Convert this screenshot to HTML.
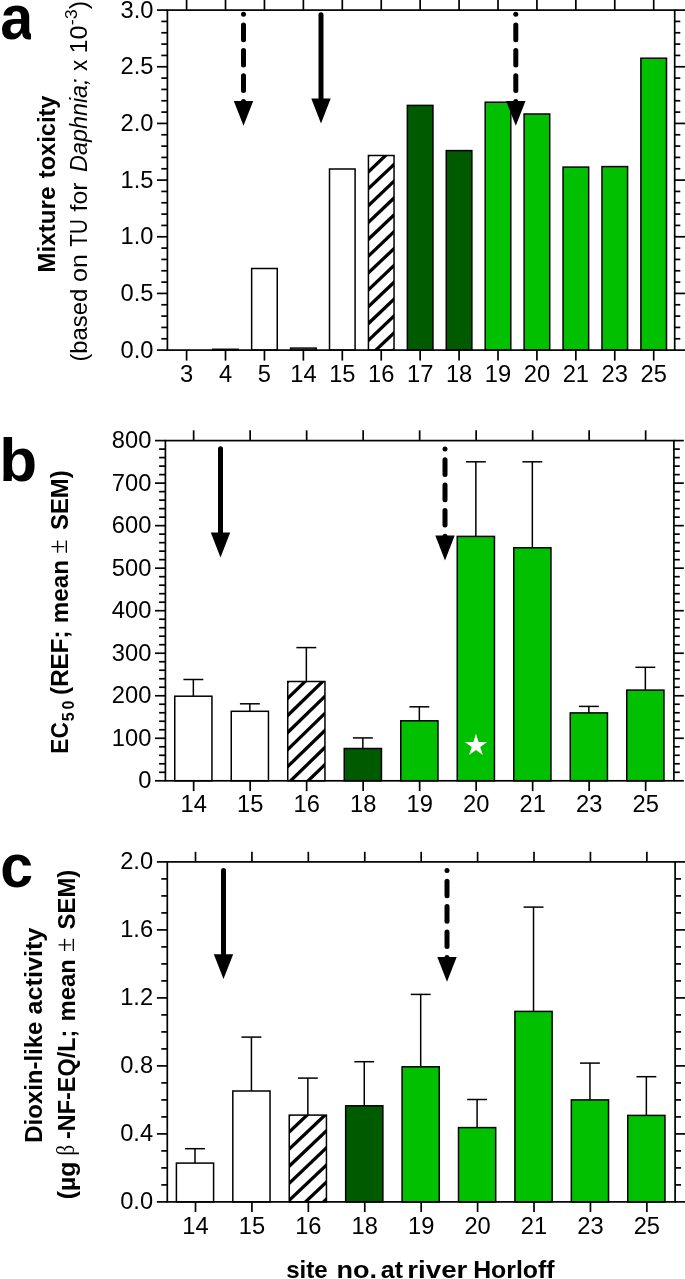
<!DOCTYPE html>
<html><head><meta charset="utf-8"><title>chart</title>
<style>html,body{margin:0;padding:0;background:#fff}svg{display:block;will-change:transform}</style>
</head><body>
<svg width="685" height="1279" viewBox="0 0 685 1279">
<rect width="685" height="1279" fill="#fff"/>
<rect x="212.72" y="349.30" width="25.60" height="0.80" fill="#fff" stroke="#000" stroke-width="1.5"/>
<rect x="251.65" y="268.50" width="25.60" height="81.60" fill="#fff" stroke="#000" stroke-width="1.5"/>
<rect x="290.57" y="348.10" width="25.60" height="2.00" fill="#fff" stroke="#000" stroke-width="1.5"/>
<rect x="329.50" y="169.00" width="25.60" height="181.10" fill="#fff" stroke="#000" stroke-width="1.5"/>
<clipPath id="hc1"><rect x="368.43" y="155.50" width="25.60" height="194.60"/></clipPath>
<rect x="368.43" y="155.50" width="25.60" height="194.60" fill="#fff"/>
<g clip-path="url(#hc1)">
<line x1="363.43" y1="126.00" x2="399.03" y2="92.18" stroke="#000" stroke-width="3.3" stroke-linecap="butt"/>
<line x1="363.43" y1="142.85" x2="399.03" y2="109.03" stroke="#000" stroke-width="3.3" stroke-linecap="butt"/>
<line x1="363.43" y1="159.70" x2="399.03" y2="125.88" stroke="#000" stroke-width="3.3" stroke-linecap="butt"/>
<line x1="363.43" y1="176.55" x2="399.03" y2="142.73" stroke="#000" stroke-width="3.3" stroke-linecap="butt"/>
<line x1="363.43" y1="193.40" x2="399.03" y2="159.58" stroke="#000" stroke-width="3.3" stroke-linecap="butt"/>
<line x1="363.43" y1="210.25" x2="399.03" y2="176.43" stroke="#000" stroke-width="3.3" stroke-linecap="butt"/>
<line x1="363.43" y1="227.10" x2="399.03" y2="193.28" stroke="#000" stroke-width="3.3" stroke-linecap="butt"/>
<line x1="363.43" y1="243.95" x2="399.03" y2="210.13" stroke="#000" stroke-width="3.3" stroke-linecap="butt"/>
<line x1="363.43" y1="260.80" x2="399.03" y2="226.98" stroke="#000" stroke-width="3.3" stroke-linecap="butt"/>
<line x1="363.43" y1="277.65" x2="399.03" y2="243.83" stroke="#000" stroke-width="3.3" stroke-linecap="butt"/>
<line x1="363.43" y1="294.50" x2="399.03" y2="260.68" stroke="#000" stroke-width="3.3" stroke-linecap="butt"/>
<line x1="363.43" y1="311.35" x2="399.03" y2="277.53" stroke="#000" stroke-width="3.3" stroke-linecap="butt"/>
<line x1="363.43" y1="328.20" x2="399.03" y2="294.38" stroke="#000" stroke-width="3.3" stroke-linecap="butt"/>
<line x1="363.43" y1="345.05" x2="399.03" y2="311.23" stroke="#000" stroke-width="3.3" stroke-linecap="butt"/>
<line x1="363.43" y1="361.90" x2="399.03" y2="328.08" stroke="#000" stroke-width="3.3" stroke-linecap="butt"/>
<line x1="363.43" y1="378.75" x2="399.03" y2="344.93" stroke="#000" stroke-width="3.3" stroke-linecap="butt"/>
</g>
<rect x="368.43" y="155.50" width="25.60" height="194.60" fill="none" stroke="#000" stroke-width="1.5"/>
<rect x="407.35" y="105.40" width="25.60" height="244.70" fill="#005A00" stroke="#000" stroke-width="1.5"/>
<rect x="446.27" y="150.60" width="25.60" height="199.50" fill="#005A00" stroke="#000" stroke-width="1.5"/>
<rect x="485.20" y="102.20" width="25.60" height="247.90" fill="#00C000" stroke="#000" stroke-width="1.5"/>
<rect x="524.12" y="114.00" width="25.60" height="236.10" fill="#00C000" stroke="#000" stroke-width="1.5"/>
<rect x="563.05" y="167.10" width="25.60" height="183.00" fill="#00C000" stroke="#000" stroke-width="1.5"/>
<rect x="601.98" y="166.60" width="25.60" height="183.50" fill="#00C000" stroke="#000" stroke-width="1.5"/>
<rect x="640.90" y="58.20" width="25.60" height="291.90" fill="#00C000" stroke="#000" stroke-width="1.5"/>
<rect x="167.40" y="10.10" width="507.30" height="340.00" fill="none" stroke="#000" stroke-width="1.7"/>
<line x1="157.00" y1="350.10" x2="167.40" y2="350.10" stroke="#000" stroke-width="1.7" stroke-linecap="butt"/>
<line x1="674.70" y1="350.10" x2="686.00" y2="350.10" stroke="#000" stroke-width="1.7" stroke-linecap="butt"/>
<text transform="translate(153.50,357.50) scale(1.0,1)" font-family="Liberation Sans, sans-serif" font-size="23.7" text-anchor="end" >0.0</text>
<line x1="161.30" y1="338.77" x2="167.40" y2="338.77" stroke="#000" stroke-width="1.7" stroke-linecap="butt"/>
<line x1="674.70" y1="338.77" x2="680.30" y2="338.77" stroke="#000" stroke-width="1.7" stroke-linecap="butt"/>
<line x1="161.30" y1="327.43" x2="167.40" y2="327.43" stroke="#000" stroke-width="1.7" stroke-linecap="butt"/>
<line x1="674.70" y1="327.43" x2="680.30" y2="327.43" stroke="#000" stroke-width="1.7" stroke-linecap="butt"/>
<line x1="161.30" y1="316.10" x2="167.40" y2="316.10" stroke="#000" stroke-width="1.7" stroke-linecap="butt"/>
<line x1="674.70" y1="316.10" x2="680.30" y2="316.10" stroke="#000" stroke-width="1.7" stroke-linecap="butt"/>
<line x1="161.30" y1="304.77" x2="167.40" y2="304.77" stroke="#000" stroke-width="1.7" stroke-linecap="butt"/>
<line x1="674.70" y1="304.77" x2="680.30" y2="304.77" stroke="#000" stroke-width="1.7" stroke-linecap="butt"/>
<line x1="157.00" y1="293.43" x2="167.40" y2="293.43" stroke="#000" stroke-width="1.7" stroke-linecap="butt"/>
<line x1="674.70" y1="293.43" x2="686.00" y2="293.43" stroke="#000" stroke-width="1.7" stroke-linecap="butt"/>
<text transform="translate(153.50,300.83) scale(1.0,1)" font-family="Liberation Sans, sans-serif" font-size="23.7" text-anchor="end" >0.5</text>
<line x1="161.30" y1="282.10" x2="167.40" y2="282.10" stroke="#000" stroke-width="1.7" stroke-linecap="butt"/>
<line x1="674.70" y1="282.10" x2="680.30" y2="282.10" stroke="#000" stroke-width="1.7" stroke-linecap="butt"/>
<line x1="161.30" y1="270.77" x2="167.40" y2="270.77" stroke="#000" stroke-width="1.7" stroke-linecap="butt"/>
<line x1="674.70" y1="270.77" x2="680.30" y2="270.77" stroke="#000" stroke-width="1.7" stroke-linecap="butt"/>
<line x1="161.30" y1="259.43" x2="167.40" y2="259.43" stroke="#000" stroke-width="1.7" stroke-linecap="butt"/>
<line x1="674.70" y1="259.43" x2="680.30" y2="259.43" stroke="#000" stroke-width="1.7" stroke-linecap="butt"/>
<line x1="161.30" y1="248.10" x2="167.40" y2="248.10" stroke="#000" stroke-width="1.7" stroke-linecap="butt"/>
<line x1="674.70" y1="248.10" x2="680.30" y2="248.10" stroke="#000" stroke-width="1.7" stroke-linecap="butt"/>
<line x1="157.00" y1="236.77" x2="167.40" y2="236.77" stroke="#000" stroke-width="1.7" stroke-linecap="butt"/>
<line x1="674.70" y1="236.77" x2="686.00" y2="236.77" stroke="#000" stroke-width="1.7" stroke-linecap="butt"/>
<text transform="translate(153.50,244.17) scale(1.0,1)" font-family="Liberation Sans, sans-serif" font-size="23.7" text-anchor="end" >1.0</text>
<line x1="161.30" y1="225.43" x2="167.40" y2="225.43" stroke="#000" stroke-width="1.7" stroke-linecap="butt"/>
<line x1="674.70" y1="225.43" x2="680.30" y2="225.43" stroke="#000" stroke-width="1.7" stroke-linecap="butt"/>
<line x1="161.30" y1="214.10" x2="167.40" y2="214.10" stroke="#000" stroke-width="1.7" stroke-linecap="butt"/>
<line x1="674.70" y1="214.10" x2="680.30" y2="214.10" stroke="#000" stroke-width="1.7" stroke-linecap="butt"/>
<line x1="161.30" y1="202.77" x2="167.40" y2="202.77" stroke="#000" stroke-width="1.7" stroke-linecap="butt"/>
<line x1="674.70" y1="202.77" x2="680.30" y2="202.77" stroke="#000" stroke-width="1.7" stroke-linecap="butt"/>
<line x1="161.30" y1="191.43" x2="167.40" y2="191.43" stroke="#000" stroke-width="1.7" stroke-linecap="butt"/>
<line x1="674.70" y1="191.43" x2="680.30" y2="191.43" stroke="#000" stroke-width="1.7" stroke-linecap="butt"/>
<line x1="157.00" y1="180.10" x2="167.40" y2="180.10" stroke="#000" stroke-width="1.7" stroke-linecap="butt"/>
<line x1="674.70" y1="180.10" x2="686.00" y2="180.10" stroke="#000" stroke-width="1.7" stroke-linecap="butt"/>
<text transform="translate(153.50,187.50) scale(1.0,1)" font-family="Liberation Sans, sans-serif" font-size="23.7" text-anchor="end" >1.5</text>
<line x1="161.30" y1="168.77" x2="167.40" y2="168.77" stroke="#000" stroke-width="1.7" stroke-linecap="butt"/>
<line x1="674.70" y1="168.77" x2="680.30" y2="168.77" stroke="#000" stroke-width="1.7" stroke-linecap="butt"/>
<line x1="161.30" y1="157.43" x2="167.40" y2="157.43" stroke="#000" stroke-width="1.7" stroke-linecap="butt"/>
<line x1="674.70" y1="157.43" x2="680.30" y2="157.43" stroke="#000" stroke-width="1.7" stroke-linecap="butt"/>
<line x1="161.30" y1="146.10" x2="167.40" y2="146.10" stroke="#000" stroke-width="1.7" stroke-linecap="butt"/>
<line x1="674.70" y1="146.10" x2="680.30" y2="146.10" stroke="#000" stroke-width="1.7" stroke-linecap="butt"/>
<line x1="161.30" y1="134.77" x2="167.40" y2="134.77" stroke="#000" stroke-width="1.7" stroke-linecap="butt"/>
<line x1="674.70" y1="134.77" x2="680.30" y2="134.77" stroke="#000" stroke-width="1.7" stroke-linecap="butt"/>
<line x1="157.00" y1="123.43" x2="167.40" y2="123.43" stroke="#000" stroke-width="1.7" stroke-linecap="butt"/>
<line x1="674.70" y1="123.43" x2="686.00" y2="123.43" stroke="#000" stroke-width="1.7" stroke-linecap="butt"/>
<text transform="translate(153.50,130.83) scale(1.0,1)" font-family="Liberation Sans, sans-serif" font-size="23.7" text-anchor="end" >2.0</text>
<line x1="161.30" y1="112.10" x2="167.40" y2="112.10" stroke="#000" stroke-width="1.7" stroke-linecap="butt"/>
<line x1="674.70" y1="112.10" x2="680.30" y2="112.10" stroke="#000" stroke-width="1.7" stroke-linecap="butt"/>
<line x1="161.30" y1="100.77" x2="167.40" y2="100.77" stroke="#000" stroke-width="1.7" stroke-linecap="butt"/>
<line x1="674.70" y1="100.77" x2="680.30" y2="100.77" stroke="#000" stroke-width="1.7" stroke-linecap="butt"/>
<line x1="161.30" y1="89.43" x2="167.40" y2="89.43" stroke="#000" stroke-width="1.7" stroke-linecap="butt"/>
<line x1="674.70" y1="89.43" x2="680.30" y2="89.43" stroke="#000" stroke-width="1.7" stroke-linecap="butt"/>
<line x1="161.30" y1="78.10" x2="167.40" y2="78.10" stroke="#000" stroke-width="1.7" stroke-linecap="butt"/>
<line x1="674.70" y1="78.10" x2="680.30" y2="78.10" stroke="#000" stroke-width="1.7" stroke-linecap="butt"/>
<line x1="157.00" y1="66.77" x2="167.40" y2="66.77" stroke="#000" stroke-width="1.7" stroke-linecap="butt"/>
<line x1="674.70" y1="66.77" x2="686.00" y2="66.77" stroke="#000" stroke-width="1.7" stroke-linecap="butt"/>
<text transform="translate(153.50,74.17) scale(1.0,1)" font-family="Liberation Sans, sans-serif" font-size="23.7" text-anchor="end" >2.5</text>
<line x1="161.30" y1="55.43" x2="167.40" y2="55.43" stroke="#000" stroke-width="1.7" stroke-linecap="butt"/>
<line x1="674.70" y1="55.43" x2="680.30" y2="55.43" stroke="#000" stroke-width="1.7" stroke-linecap="butt"/>
<line x1="161.30" y1="44.10" x2="167.40" y2="44.10" stroke="#000" stroke-width="1.7" stroke-linecap="butt"/>
<line x1="674.70" y1="44.10" x2="680.30" y2="44.10" stroke="#000" stroke-width="1.7" stroke-linecap="butt"/>
<line x1="161.30" y1="32.77" x2="167.40" y2="32.77" stroke="#000" stroke-width="1.7" stroke-linecap="butt"/>
<line x1="674.70" y1="32.77" x2="680.30" y2="32.77" stroke="#000" stroke-width="1.7" stroke-linecap="butt"/>
<line x1="161.30" y1="21.43" x2="167.40" y2="21.43" stroke="#000" stroke-width="1.7" stroke-linecap="butt"/>
<line x1="674.70" y1="21.43" x2="680.30" y2="21.43" stroke="#000" stroke-width="1.7" stroke-linecap="butt"/>
<line x1="157.00" y1="10.10" x2="167.40" y2="10.10" stroke="#000" stroke-width="1.7" stroke-linecap="butt"/>
<line x1="674.70" y1="10.10" x2="686.00" y2="10.10" stroke="#000" stroke-width="1.7" stroke-linecap="butt"/>
<text transform="translate(153.50,17.50) scale(1.0,1)" font-family="Liberation Sans, sans-serif" font-size="23.7" text-anchor="end" >3.0</text>
<line x1="186.60" y1="350.10" x2="186.60" y2="360.60" stroke="#000" stroke-width="1.7" stroke-linecap="butt"/>
<line x1="186.60" y1="10.10" x2="186.60" y2="-1.00" stroke="#000" stroke-width="1.7" stroke-linecap="butt"/>
<text transform="translate(186.60,381.80) scale(1.0,1)" font-family="Liberation Sans, sans-serif" font-size="23.7" text-anchor="middle" >3</text>
<line x1="225.52" y1="350.10" x2="225.52" y2="360.60" stroke="#000" stroke-width="1.7" stroke-linecap="butt"/>
<line x1="225.52" y1="10.10" x2="225.52" y2="-1.00" stroke="#000" stroke-width="1.7" stroke-linecap="butt"/>
<text transform="translate(225.52,381.80) scale(1.0,1)" font-family="Liberation Sans, sans-serif" font-size="23.7" text-anchor="middle" >4</text>
<line x1="264.45" y1="350.10" x2="264.45" y2="360.60" stroke="#000" stroke-width="1.7" stroke-linecap="butt"/>
<line x1="264.45" y1="10.10" x2="264.45" y2="-1.00" stroke="#000" stroke-width="1.7" stroke-linecap="butt"/>
<text transform="translate(264.45,381.80) scale(1.0,1)" font-family="Liberation Sans, sans-serif" font-size="23.7" text-anchor="middle" >5</text>
<line x1="303.38" y1="350.10" x2="303.38" y2="360.60" stroke="#000" stroke-width="1.7" stroke-linecap="butt"/>
<line x1="303.38" y1="10.10" x2="303.38" y2="-1.00" stroke="#000" stroke-width="1.7" stroke-linecap="butt"/>
<text transform="translate(303.38,381.80) scale(1.0,1)" font-family="Liberation Sans, sans-serif" font-size="23.7" text-anchor="middle" >14</text>
<line x1="342.30" y1="350.10" x2="342.30" y2="360.60" stroke="#000" stroke-width="1.7" stroke-linecap="butt"/>
<line x1="342.30" y1="10.10" x2="342.30" y2="-1.00" stroke="#000" stroke-width="1.7" stroke-linecap="butt"/>
<text transform="translate(342.30,381.80) scale(1.0,1)" font-family="Liberation Sans, sans-serif" font-size="23.7" text-anchor="middle" >15</text>
<line x1="381.23" y1="350.10" x2="381.23" y2="360.60" stroke="#000" stroke-width="1.7" stroke-linecap="butt"/>
<line x1="381.23" y1="10.10" x2="381.23" y2="-1.00" stroke="#000" stroke-width="1.7" stroke-linecap="butt"/>
<text transform="translate(381.23,381.80) scale(1.0,1)" font-family="Liberation Sans, sans-serif" font-size="23.7" text-anchor="middle" >16</text>
<line x1="420.15" y1="350.10" x2="420.15" y2="360.60" stroke="#000" stroke-width="1.7" stroke-linecap="butt"/>
<line x1="420.15" y1="10.10" x2="420.15" y2="-1.00" stroke="#000" stroke-width="1.7" stroke-linecap="butt"/>
<text transform="translate(420.15,381.80) scale(1.0,1)" font-family="Liberation Sans, sans-serif" font-size="23.7" text-anchor="middle" >17</text>
<line x1="459.07" y1="350.10" x2="459.07" y2="360.60" stroke="#000" stroke-width="1.7" stroke-linecap="butt"/>
<line x1="459.07" y1="10.10" x2="459.07" y2="-1.00" stroke="#000" stroke-width="1.7" stroke-linecap="butt"/>
<text transform="translate(459.07,381.80) scale(1.0,1)" font-family="Liberation Sans, sans-serif" font-size="23.7" text-anchor="middle" >18</text>
<line x1="498.00" y1="350.10" x2="498.00" y2="360.60" stroke="#000" stroke-width="1.7" stroke-linecap="butt"/>
<line x1="498.00" y1="10.10" x2="498.00" y2="-1.00" stroke="#000" stroke-width="1.7" stroke-linecap="butt"/>
<text transform="translate(498.00,381.80) scale(1.0,1)" font-family="Liberation Sans, sans-serif" font-size="23.7" text-anchor="middle" >19</text>
<line x1="536.92" y1="350.10" x2="536.92" y2="360.60" stroke="#000" stroke-width="1.7" stroke-linecap="butt"/>
<line x1="536.92" y1="10.10" x2="536.92" y2="-1.00" stroke="#000" stroke-width="1.7" stroke-linecap="butt"/>
<text transform="translate(536.92,381.80) scale(1.0,1)" font-family="Liberation Sans, sans-serif" font-size="23.7" text-anchor="middle" >20</text>
<line x1="575.85" y1="350.10" x2="575.85" y2="360.60" stroke="#000" stroke-width="1.7" stroke-linecap="butt"/>
<line x1="575.85" y1="10.10" x2="575.85" y2="-1.00" stroke="#000" stroke-width="1.7" stroke-linecap="butt"/>
<text transform="translate(575.85,381.80) scale(1.0,1)" font-family="Liberation Sans, sans-serif" font-size="23.7" text-anchor="middle" >21</text>
<line x1="614.77" y1="350.10" x2="614.77" y2="360.60" stroke="#000" stroke-width="1.7" stroke-linecap="butt"/>
<line x1="614.77" y1="10.10" x2="614.77" y2="-1.00" stroke="#000" stroke-width="1.7" stroke-linecap="butt"/>
<text transform="translate(614.77,381.80) scale(1.0,1)" font-family="Liberation Sans, sans-serif" font-size="23.7" text-anchor="middle" >23</text>
<line x1="653.70" y1="350.10" x2="653.70" y2="360.60" stroke="#000" stroke-width="1.7" stroke-linecap="butt"/>
<line x1="653.70" y1="10.10" x2="653.70" y2="-1.00" stroke="#000" stroke-width="1.7" stroke-linecap="butt"/>
<text transform="translate(653.70,381.80) scale(1.0,1)" font-family="Liberation Sans, sans-serif" font-size="23.7" text-anchor="middle" >25</text>
<circle cx="243.50" cy="14.30" r="2.5" fill="#000"/>
<line x1="243.50" y1="25.10" x2="243.50" y2="39.70" stroke="#000" stroke-width="5" stroke-linecap="round"/>
<line x1="243.50" y1="50.40" x2="243.50" y2="65.10" stroke="#000" stroke-width="5" stroke-linecap="round"/>
<line x1="243.50" y1="75.80" x2="243.50" y2="90.40" stroke="#000" stroke-width="5" stroke-linecap="round"/>
<line x1="243.50" y1="101.50" x2="243.50" y2="106.30" stroke="#000" stroke-width="5" stroke-linecap="round"/>
<polygon points="233.80,100.90 253.20,100.90 243.50,125.70" fill="#000"/>
<line x1="321.00" y1="14.80" x2="321.00" y2="102.30" stroke="#000" stroke-width="5" stroke-linecap="round"/>
<polygon points="311.30,98.50 330.70,98.50 321.00,123.40" fill="#000"/>
<circle cx="515.80" cy="14.30" r="2.5" fill="#000"/>
<line x1="515.80" y1="25.10" x2="515.80" y2="39.70" stroke="#000" stroke-width="5" stroke-linecap="round"/>
<line x1="515.80" y1="50.40" x2="515.80" y2="65.10" stroke="#000" stroke-width="5" stroke-linecap="round"/>
<line x1="515.80" y1="75.80" x2="515.80" y2="90.40" stroke="#000" stroke-width="5" stroke-linecap="round"/>
<line x1="515.80" y1="101.50" x2="515.80" y2="106.30" stroke="#000" stroke-width="5" stroke-linecap="round"/>
<polygon points="506.10,100.90 525.50,100.90 515.80,125.70" fill="#000"/>
<line x1="193.35" y1="696.20" x2="193.35" y2="679.50" stroke="#000" stroke-width="1.5" stroke-linecap="butt"/>
<line x1="183.40" y1="679.50" x2="203.30" y2="679.50" stroke="#000" stroke-width="1.5" stroke-linecap="butt"/>
<rect x="174.75" y="696.20" width="37.20" height="84.60" fill="#fff" stroke="#000" stroke-width="1.5"/>
<line x1="249.85" y1="711.30" x2="249.85" y2="703.80" stroke="#000" stroke-width="1.5" stroke-linecap="butt"/>
<line x1="239.90" y1="703.80" x2="259.80" y2="703.80" stroke="#000" stroke-width="1.5" stroke-linecap="butt"/>
<rect x="231.25" y="711.30" width="37.20" height="69.50" fill="#fff" stroke="#000" stroke-width="1.5"/>
<line x1="306.35" y1="681.50" x2="306.35" y2="647.60" stroke="#000" stroke-width="1.5" stroke-linecap="butt"/>
<line x1="296.40" y1="647.60" x2="316.30" y2="647.60" stroke="#000" stroke-width="1.5" stroke-linecap="butt"/>
<clipPath id="hc2"><rect x="287.75" y="681.50" width="37.20" height="99.30"/></clipPath>
<rect x="287.75" y="681.50" width="37.20" height="99.30" fill="#fff"/>
<g clip-path="url(#hc2)">
<line x1="282.75" y1="652.00" x2="329.95" y2="606.22" stroke="#000" stroke-width="3.3" stroke-linecap="butt"/>
<line x1="282.75" y1="669.05" x2="329.95" y2="623.27" stroke="#000" stroke-width="3.3" stroke-linecap="butt"/>
<line x1="282.75" y1="686.10" x2="329.95" y2="640.32" stroke="#000" stroke-width="3.3" stroke-linecap="butt"/>
<line x1="282.75" y1="703.15" x2="329.95" y2="657.37" stroke="#000" stroke-width="3.3" stroke-linecap="butt"/>
<line x1="282.75" y1="720.20" x2="329.95" y2="674.42" stroke="#000" stroke-width="3.3" stroke-linecap="butt"/>
<line x1="282.75" y1="737.25" x2="329.95" y2="691.47" stroke="#000" stroke-width="3.3" stroke-linecap="butt"/>
<line x1="282.75" y1="754.30" x2="329.95" y2="708.52" stroke="#000" stroke-width="3.3" stroke-linecap="butt"/>
<line x1="282.75" y1="771.35" x2="329.95" y2="725.57" stroke="#000" stroke-width="3.3" stroke-linecap="butt"/>
<line x1="282.75" y1="788.40" x2="329.95" y2="742.62" stroke="#000" stroke-width="3.3" stroke-linecap="butt"/>
<line x1="282.75" y1="805.45" x2="329.95" y2="759.67" stroke="#000" stroke-width="3.3" stroke-linecap="butt"/>
<line x1="282.75" y1="822.50" x2="329.95" y2="776.72" stroke="#000" stroke-width="3.3" stroke-linecap="butt"/>
</g>
<rect x="287.75" y="681.50" width="37.20" height="99.30" fill="none" stroke="#000" stroke-width="1.5"/>
<line x1="362.85" y1="748.50" x2="362.85" y2="737.90" stroke="#000" stroke-width="1.5" stroke-linecap="butt"/>
<line x1="352.90" y1="737.90" x2="372.80" y2="737.90" stroke="#000" stroke-width="1.5" stroke-linecap="butt"/>
<rect x="344.25" y="748.50" width="37.20" height="32.30" fill="#005A00" stroke="#000" stroke-width="1.5"/>
<line x1="419.35" y1="720.80" x2="419.35" y2="706.80" stroke="#000" stroke-width="1.5" stroke-linecap="butt"/>
<line x1="409.40" y1="706.80" x2="429.30" y2="706.80" stroke="#000" stroke-width="1.5" stroke-linecap="butt"/>
<rect x="400.75" y="720.80" width="37.20" height="60.00" fill="#00C000" stroke="#000" stroke-width="1.5"/>
<line x1="475.85" y1="536.40" x2="475.85" y2="461.80" stroke="#000" stroke-width="1.5" stroke-linecap="butt"/>
<line x1="465.90" y1="461.80" x2="485.80" y2="461.80" stroke="#000" stroke-width="1.5" stroke-linecap="butt"/>
<rect x="457.25" y="536.40" width="37.20" height="244.40" fill="#00C000" stroke="#000" stroke-width="1.5"/>
<line x1="532.35" y1="547.80" x2="532.35" y2="461.80" stroke="#000" stroke-width="1.5" stroke-linecap="butt"/>
<line x1="522.40" y1="461.80" x2="542.30" y2="461.80" stroke="#000" stroke-width="1.5" stroke-linecap="butt"/>
<rect x="513.75" y="547.80" width="37.20" height="233.00" fill="#00C000" stroke="#000" stroke-width="1.5"/>
<line x1="588.85" y1="712.90" x2="588.85" y2="706.40" stroke="#000" stroke-width="1.5" stroke-linecap="butt"/>
<line x1="578.90" y1="706.40" x2="598.80" y2="706.40" stroke="#000" stroke-width="1.5" stroke-linecap="butt"/>
<rect x="570.25" y="712.90" width="37.20" height="67.90" fill="#00C000" stroke="#000" stroke-width="1.5"/>
<line x1="645.35" y1="690.10" x2="645.35" y2="667.30" stroke="#000" stroke-width="1.5" stroke-linecap="butt"/>
<line x1="635.40" y1="667.30" x2="655.30" y2="667.30" stroke="#000" stroke-width="1.5" stroke-linecap="butt"/>
<rect x="626.75" y="690.10" width="37.20" height="90.70" fill="#00C000" stroke="#000" stroke-width="1.5"/>
<rect x="165.40" y="440.60" width="508.50" height="340.20" fill="none" stroke="#000" stroke-width="1.7"/>
<line x1="155.00" y1="780.80" x2="165.40" y2="780.80" stroke="#000" stroke-width="1.7" stroke-linecap="butt"/>
<line x1="673.90" y1="780.80" x2="683.80" y2="780.80" stroke="#000" stroke-width="1.7" stroke-linecap="butt"/>
<text transform="translate(151.40,788.20) scale(1.0,1)" font-family="Liberation Sans, sans-serif" font-size="23.7" text-anchor="end" >0</text>
<line x1="159.10" y1="772.29" x2="165.40" y2="772.29" stroke="#000" stroke-width="1.7" stroke-linecap="butt"/>
<line x1="673.90" y1="772.29" x2="679.80" y2="772.29" stroke="#000" stroke-width="1.7" stroke-linecap="butt"/>
<line x1="159.10" y1="763.79" x2="165.40" y2="763.79" stroke="#000" stroke-width="1.7" stroke-linecap="butt"/>
<line x1="673.90" y1="763.79" x2="679.80" y2="763.79" stroke="#000" stroke-width="1.7" stroke-linecap="butt"/>
<line x1="159.10" y1="755.28" x2="165.40" y2="755.28" stroke="#000" stroke-width="1.7" stroke-linecap="butt"/>
<line x1="673.90" y1="755.28" x2="679.80" y2="755.28" stroke="#000" stroke-width="1.7" stroke-linecap="butt"/>
<line x1="159.10" y1="746.78" x2="165.40" y2="746.78" stroke="#000" stroke-width="1.7" stroke-linecap="butt"/>
<line x1="673.90" y1="746.78" x2="679.80" y2="746.78" stroke="#000" stroke-width="1.7" stroke-linecap="butt"/>
<line x1="155.00" y1="738.27" x2="165.40" y2="738.27" stroke="#000" stroke-width="1.7" stroke-linecap="butt"/>
<line x1="673.90" y1="738.27" x2="683.80" y2="738.27" stroke="#000" stroke-width="1.7" stroke-linecap="butt"/>
<text transform="translate(151.40,745.67) scale(1.0,1)" font-family="Liberation Sans, sans-serif" font-size="23.7" text-anchor="end" >100</text>
<line x1="159.10" y1="729.77" x2="165.40" y2="729.77" stroke="#000" stroke-width="1.7" stroke-linecap="butt"/>
<line x1="673.90" y1="729.77" x2="679.80" y2="729.77" stroke="#000" stroke-width="1.7" stroke-linecap="butt"/>
<line x1="159.10" y1="721.26" x2="165.40" y2="721.26" stroke="#000" stroke-width="1.7" stroke-linecap="butt"/>
<line x1="673.90" y1="721.26" x2="679.80" y2="721.26" stroke="#000" stroke-width="1.7" stroke-linecap="butt"/>
<line x1="159.10" y1="712.76" x2="165.40" y2="712.76" stroke="#000" stroke-width="1.7" stroke-linecap="butt"/>
<line x1="673.90" y1="712.76" x2="679.80" y2="712.76" stroke="#000" stroke-width="1.7" stroke-linecap="butt"/>
<line x1="159.10" y1="704.25" x2="165.40" y2="704.25" stroke="#000" stroke-width="1.7" stroke-linecap="butt"/>
<line x1="673.90" y1="704.25" x2="679.80" y2="704.25" stroke="#000" stroke-width="1.7" stroke-linecap="butt"/>
<line x1="155.00" y1="695.75" x2="165.40" y2="695.75" stroke="#000" stroke-width="1.7" stroke-linecap="butt"/>
<line x1="673.90" y1="695.75" x2="683.80" y2="695.75" stroke="#000" stroke-width="1.7" stroke-linecap="butt"/>
<text transform="translate(151.40,703.15) scale(1.0,1)" font-family="Liberation Sans, sans-serif" font-size="23.7" text-anchor="end" >200</text>
<line x1="159.10" y1="687.25" x2="165.40" y2="687.25" stroke="#000" stroke-width="1.7" stroke-linecap="butt"/>
<line x1="673.90" y1="687.25" x2="679.80" y2="687.25" stroke="#000" stroke-width="1.7" stroke-linecap="butt"/>
<line x1="159.10" y1="678.74" x2="165.40" y2="678.74" stroke="#000" stroke-width="1.7" stroke-linecap="butt"/>
<line x1="673.90" y1="678.74" x2="679.80" y2="678.74" stroke="#000" stroke-width="1.7" stroke-linecap="butt"/>
<line x1="159.10" y1="670.24" x2="165.40" y2="670.24" stroke="#000" stroke-width="1.7" stroke-linecap="butt"/>
<line x1="673.90" y1="670.24" x2="679.80" y2="670.24" stroke="#000" stroke-width="1.7" stroke-linecap="butt"/>
<line x1="159.10" y1="661.73" x2="165.40" y2="661.73" stroke="#000" stroke-width="1.7" stroke-linecap="butt"/>
<line x1="673.90" y1="661.73" x2="679.80" y2="661.73" stroke="#000" stroke-width="1.7" stroke-linecap="butt"/>
<line x1="155.00" y1="653.23" x2="165.40" y2="653.23" stroke="#000" stroke-width="1.7" stroke-linecap="butt"/>
<line x1="673.90" y1="653.23" x2="683.80" y2="653.23" stroke="#000" stroke-width="1.7" stroke-linecap="butt"/>
<text transform="translate(151.40,660.62) scale(1.0,1)" font-family="Liberation Sans, sans-serif" font-size="23.7" text-anchor="end" >300</text>
<line x1="159.10" y1="644.72" x2="165.40" y2="644.72" stroke="#000" stroke-width="1.7" stroke-linecap="butt"/>
<line x1="673.90" y1="644.72" x2="679.80" y2="644.72" stroke="#000" stroke-width="1.7" stroke-linecap="butt"/>
<line x1="159.10" y1="636.22" x2="165.40" y2="636.22" stroke="#000" stroke-width="1.7" stroke-linecap="butt"/>
<line x1="673.90" y1="636.22" x2="679.80" y2="636.22" stroke="#000" stroke-width="1.7" stroke-linecap="butt"/>
<line x1="159.10" y1="627.71" x2="165.40" y2="627.71" stroke="#000" stroke-width="1.7" stroke-linecap="butt"/>
<line x1="673.90" y1="627.71" x2="679.80" y2="627.71" stroke="#000" stroke-width="1.7" stroke-linecap="butt"/>
<line x1="159.10" y1="619.21" x2="165.40" y2="619.21" stroke="#000" stroke-width="1.7" stroke-linecap="butt"/>
<line x1="673.90" y1="619.21" x2="679.80" y2="619.21" stroke="#000" stroke-width="1.7" stroke-linecap="butt"/>
<line x1="155.00" y1="610.70" x2="165.40" y2="610.70" stroke="#000" stroke-width="1.7" stroke-linecap="butt"/>
<line x1="673.90" y1="610.70" x2="683.80" y2="610.70" stroke="#000" stroke-width="1.7" stroke-linecap="butt"/>
<text transform="translate(151.40,618.10) scale(1.0,1)" font-family="Liberation Sans, sans-serif" font-size="23.7" text-anchor="end" >400</text>
<line x1="159.10" y1="602.20" x2="165.40" y2="602.20" stroke="#000" stroke-width="1.7" stroke-linecap="butt"/>
<line x1="673.90" y1="602.20" x2="679.80" y2="602.20" stroke="#000" stroke-width="1.7" stroke-linecap="butt"/>
<line x1="159.10" y1="593.69" x2="165.40" y2="593.69" stroke="#000" stroke-width="1.7" stroke-linecap="butt"/>
<line x1="673.90" y1="593.69" x2="679.80" y2="593.69" stroke="#000" stroke-width="1.7" stroke-linecap="butt"/>
<line x1="159.10" y1="585.19" x2="165.40" y2="585.19" stroke="#000" stroke-width="1.7" stroke-linecap="butt"/>
<line x1="673.90" y1="585.19" x2="679.80" y2="585.19" stroke="#000" stroke-width="1.7" stroke-linecap="butt"/>
<line x1="159.10" y1="576.68" x2="165.40" y2="576.68" stroke="#000" stroke-width="1.7" stroke-linecap="butt"/>
<line x1="673.90" y1="576.68" x2="679.80" y2="576.68" stroke="#000" stroke-width="1.7" stroke-linecap="butt"/>
<line x1="155.00" y1="568.17" x2="165.40" y2="568.17" stroke="#000" stroke-width="1.7" stroke-linecap="butt"/>
<line x1="673.90" y1="568.17" x2="683.80" y2="568.17" stroke="#000" stroke-width="1.7" stroke-linecap="butt"/>
<text transform="translate(151.40,575.57) scale(1.0,1)" font-family="Liberation Sans, sans-serif" font-size="23.7" text-anchor="end" >500</text>
<line x1="159.10" y1="559.67" x2="165.40" y2="559.67" stroke="#000" stroke-width="1.7" stroke-linecap="butt"/>
<line x1="673.90" y1="559.67" x2="679.80" y2="559.67" stroke="#000" stroke-width="1.7" stroke-linecap="butt"/>
<line x1="159.10" y1="551.16" x2="165.40" y2="551.16" stroke="#000" stroke-width="1.7" stroke-linecap="butt"/>
<line x1="673.90" y1="551.16" x2="679.80" y2="551.16" stroke="#000" stroke-width="1.7" stroke-linecap="butt"/>
<line x1="159.10" y1="542.66" x2="165.40" y2="542.66" stroke="#000" stroke-width="1.7" stroke-linecap="butt"/>
<line x1="673.90" y1="542.66" x2="679.80" y2="542.66" stroke="#000" stroke-width="1.7" stroke-linecap="butt"/>
<line x1="159.10" y1="534.15" x2="165.40" y2="534.15" stroke="#000" stroke-width="1.7" stroke-linecap="butt"/>
<line x1="673.90" y1="534.15" x2="679.80" y2="534.15" stroke="#000" stroke-width="1.7" stroke-linecap="butt"/>
<line x1="155.00" y1="525.65" x2="165.40" y2="525.65" stroke="#000" stroke-width="1.7" stroke-linecap="butt"/>
<line x1="673.90" y1="525.65" x2="683.80" y2="525.65" stroke="#000" stroke-width="1.7" stroke-linecap="butt"/>
<text transform="translate(151.40,533.05) scale(1.0,1)" font-family="Liberation Sans, sans-serif" font-size="23.7" text-anchor="end" >600</text>
<line x1="159.10" y1="517.14" x2="165.40" y2="517.14" stroke="#000" stroke-width="1.7" stroke-linecap="butt"/>
<line x1="673.90" y1="517.14" x2="679.80" y2="517.14" stroke="#000" stroke-width="1.7" stroke-linecap="butt"/>
<line x1="159.10" y1="508.64" x2="165.40" y2="508.64" stroke="#000" stroke-width="1.7" stroke-linecap="butt"/>
<line x1="673.90" y1="508.64" x2="679.80" y2="508.64" stroke="#000" stroke-width="1.7" stroke-linecap="butt"/>
<line x1="159.10" y1="500.13" x2="165.40" y2="500.13" stroke="#000" stroke-width="1.7" stroke-linecap="butt"/>
<line x1="673.90" y1="500.13" x2="679.80" y2="500.13" stroke="#000" stroke-width="1.7" stroke-linecap="butt"/>
<line x1="159.10" y1="491.63" x2="165.40" y2="491.63" stroke="#000" stroke-width="1.7" stroke-linecap="butt"/>
<line x1="673.90" y1="491.63" x2="679.80" y2="491.63" stroke="#000" stroke-width="1.7" stroke-linecap="butt"/>
<line x1="155.00" y1="483.12" x2="165.40" y2="483.12" stroke="#000" stroke-width="1.7" stroke-linecap="butt"/>
<line x1="673.90" y1="483.12" x2="683.80" y2="483.12" stroke="#000" stroke-width="1.7" stroke-linecap="butt"/>
<text transform="translate(151.40,490.52) scale(1.0,1)" font-family="Liberation Sans, sans-serif" font-size="23.7" text-anchor="end" >700</text>
<line x1="159.10" y1="474.62" x2="165.40" y2="474.62" stroke="#000" stroke-width="1.7" stroke-linecap="butt"/>
<line x1="673.90" y1="474.62" x2="679.80" y2="474.62" stroke="#000" stroke-width="1.7" stroke-linecap="butt"/>
<line x1="159.10" y1="466.12" x2="165.40" y2="466.12" stroke="#000" stroke-width="1.7" stroke-linecap="butt"/>
<line x1="673.90" y1="466.12" x2="679.80" y2="466.12" stroke="#000" stroke-width="1.7" stroke-linecap="butt"/>
<line x1="159.10" y1="457.61" x2="165.40" y2="457.61" stroke="#000" stroke-width="1.7" stroke-linecap="butt"/>
<line x1="673.90" y1="457.61" x2="679.80" y2="457.61" stroke="#000" stroke-width="1.7" stroke-linecap="butt"/>
<line x1="159.10" y1="449.11" x2="165.40" y2="449.11" stroke="#000" stroke-width="1.7" stroke-linecap="butt"/>
<line x1="673.90" y1="449.11" x2="679.80" y2="449.11" stroke="#000" stroke-width="1.7" stroke-linecap="butt"/>
<line x1="155.00" y1="440.60" x2="165.40" y2="440.60" stroke="#000" stroke-width="1.7" stroke-linecap="butt"/>
<line x1="673.90" y1="440.60" x2="683.80" y2="440.60" stroke="#000" stroke-width="1.7" stroke-linecap="butt"/>
<text transform="translate(151.40,448.00) scale(1.0,1)" font-family="Liberation Sans, sans-serif" font-size="23.7" text-anchor="end" >800</text>
<line x1="193.65" y1="780.80" x2="193.65" y2="791.10" stroke="#000" stroke-width="1.7" stroke-linecap="butt"/>
<line x1="193.65" y1="440.60" x2="193.65" y2="430.30" stroke="#000" stroke-width="1.7" stroke-linecap="butt"/>
<text transform="translate(193.65,811.80) scale(1.0,1)" font-family="Liberation Sans, sans-serif" font-size="23.7" text-anchor="middle" >14</text>
<line x1="250.15" y1="780.80" x2="250.15" y2="791.10" stroke="#000" stroke-width="1.7" stroke-linecap="butt"/>
<line x1="250.15" y1="440.60" x2="250.15" y2="430.30" stroke="#000" stroke-width="1.7" stroke-linecap="butt"/>
<text transform="translate(250.15,811.80) scale(1.0,1)" font-family="Liberation Sans, sans-serif" font-size="23.7" text-anchor="middle" >15</text>
<line x1="306.65" y1="780.80" x2="306.65" y2="791.10" stroke="#000" stroke-width="1.7" stroke-linecap="butt"/>
<line x1="306.65" y1="440.60" x2="306.65" y2="430.30" stroke="#000" stroke-width="1.7" stroke-linecap="butt"/>
<text transform="translate(306.65,811.80) scale(1.0,1)" font-family="Liberation Sans, sans-serif" font-size="23.7" text-anchor="middle" >16</text>
<line x1="363.15" y1="780.80" x2="363.15" y2="791.10" stroke="#000" stroke-width="1.7" stroke-linecap="butt"/>
<line x1="363.15" y1="440.60" x2="363.15" y2="430.30" stroke="#000" stroke-width="1.7" stroke-linecap="butt"/>
<text transform="translate(363.15,811.80) scale(1.0,1)" font-family="Liberation Sans, sans-serif" font-size="23.7" text-anchor="middle" >18</text>
<line x1="419.65" y1="780.80" x2="419.65" y2="791.10" stroke="#000" stroke-width="1.7" stroke-linecap="butt"/>
<line x1="419.65" y1="440.60" x2="419.65" y2="430.30" stroke="#000" stroke-width="1.7" stroke-linecap="butt"/>
<text transform="translate(419.65,811.80) scale(1.0,1)" font-family="Liberation Sans, sans-serif" font-size="23.7" text-anchor="middle" >19</text>
<line x1="476.15" y1="780.80" x2="476.15" y2="791.10" stroke="#000" stroke-width="1.7" stroke-linecap="butt"/>
<line x1="476.15" y1="440.60" x2="476.15" y2="430.30" stroke="#000" stroke-width="1.7" stroke-linecap="butt"/>
<text transform="translate(476.15,811.80) scale(1.0,1)" font-family="Liberation Sans, sans-serif" font-size="23.7" text-anchor="middle" >20</text>
<line x1="532.65" y1="780.80" x2="532.65" y2="791.10" stroke="#000" stroke-width="1.7" stroke-linecap="butt"/>
<line x1="532.65" y1="440.60" x2="532.65" y2="430.30" stroke="#000" stroke-width="1.7" stroke-linecap="butt"/>
<text transform="translate(532.65,811.80) scale(1.0,1)" font-family="Liberation Sans, sans-serif" font-size="23.7" text-anchor="middle" >21</text>
<line x1="589.15" y1="780.80" x2="589.15" y2="791.10" stroke="#000" stroke-width="1.7" stroke-linecap="butt"/>
<line x1="589.15" y1="440.60" x2="589.15" y2="430.30" stroke="#000" stroke-width="1.7" stroke-linecap="butt"/>
<text transform="translate(589.15,811.80) scale(1.0,1)" font-family="Liberation Sans, sans-serif" font-size="23.7" text-anchor="middle" >23</text>
<line x1="645.65" y1="780.80" x2="645.65" y2="791.10" stroke="#000" stroke-width="1.7" stroke-linecap="butt"/>
<line x1="645.65" y1="440.60" x2="645.65" y2="430.30" stroke="#000" stroke-width="1.7" stroke-linecap="butt"/>
<text transform="translate(645.65,811.80) scale(1.0,1)" font-family="Liberation Sans, sans-serif" font-size="23.7" text-anchor="middle" >25</text>
<line x1="220.50" y1="448.80" x2="220.50" y2="536.30" stroke="#000" stroke-width="5" stroke-linecap="round"/>
<polygon points="210.80,532.50 230.20,532.50 220.50,557.40" fill="#000"/>
<circle cx="445.00" cy="449.00" r="2.5" fill="#000"/>
<line x1="445.00" y1="459.80" x2="445.00" y2="474.40" stroke="#000" stroke-width="5" stroke-linecap="round"/>
<line x1="445.00" y1="485.10" x2="445.00" y2="499.80" stroke="#000" stroke-width="5" stroke-linecap="round"/>
<line x1="445.00" y1="510.50" x2="445.00" y2="525.10" stroke="#000" stroke-width="5" stroke-linecap="round"/>
<line x1="445.00" y1="536.20" x2="445.00" y2="541.00" stroke="#000" stroke-width="5" stroke-linecap="round"/>
<polygon points="435.30,535.60 454.70,535.60 445.00,560.40" fill="#000"/>
<polygon points="475.95,733.80 478.58,741.88 487.08,741.88 480.20,746.88 482.83,754.97 475.95,749.97 469.07,754.97 471.70,746.88 464.82,741.88 473.32,741.88" fill="#fff"/>
<line x1="195.00" y1="1163.10" x2="195.00" y2="1148.70" stroke="#000" stroke-width="1.5" stroke-linecap="butt"/>
<line x1="185.05" y1="1148.70" x2="204.95" y2="1148.70" stroke="#000" stroke-width="1.5" stroke-linecap="butt"/>
<rect x="176.40" y="1163.10" width="37.20" height="38.80" fill="#fff" stroke="#000" stroke-width="1.5"/>
<line x1="251.42" y1="1091.00" x2="251.42" y2="1037.10" stroke="#000" stroke-width="1.5" stroke-linecap="butt"/>
<line x1="241.47" y1="1037.10" x2="261.37" y2="1037.10" stroke="#000" stroke-width="1.5" stroke-linecap="butt"/>
<rect x="232.82" y="1091.00" width="37.20" height="110.90" fill="#fff" stroke="#000" stroke-width="1.5"/>
<line x1="307.84" y1="1115.10" x2="307.84" y2="1078.10" stroke="#000" stroke-width="1.5" stroke-linecap="butt"/>
<line x1="297.89" y1="1078.10" x2="317.79" y2="1078.10" stroke="#000" stroke-width="1.5" stroke-linecap="butt"/>
<clipPath id="hc3"><rect x="289.24" y="1115.10" width="37.20" height="86.80"/></clipPath>
<rect x="289.24" y="1115.10" width="37.20" height="86.80" fill="#fff"/>
<g clip-path="url(#hc3)">
<line x1="284.24" y1="1085.54" x2="331.44" y2="1040.70" stroke="#000" stroke-width="3.3" stroke-linecap="butt"/>
<line x1="284.24" y1="1102.61" x2="331.44" y2="1057.77" stroke="#000" stroke-width="3.3" stroke-linecap="butt"/>
<line x1="284.24" y1="1119.68" x2="331.44" y2="1074.84" stroke="#000" stroke-width="3.3" stroke-linecap="butt"/>
<line x1="284.24" y1="1136.75" x2="331.44" y2="1091.91" stroke="#000" stroke-width="3.3" stroke-linecap="butt"/>
<line x1="284.24" y1="1153.82" x2="331.44" y2="1108.98" stroke="#000" stroke-width="3.3" stroke-linecap="butt"/>
<line x1="284.24" y1="1170.89" x2="331.44" y2="1126.05" stroke="#000" stroke-width="3.3" stroke-linecap="butt"/>
<line x1="284.24" y1="1187.96" x2="331.44" y2="1143.12" stroke="#000" stroke-width="3.3" stroke-linecap="butt"/>
<line x1="284.24" y1="1205.03" x2="331.44" y2="1160.19" stroke="#000" stroke-width="3.3" stroke-linecap="butt"/>
<line x1="284.24" y1="1222.10" x2="331.44" y2="1177.26" stroke="#000" stroke-width="3.3" stroke-linecap="butt"/>
<line x1="284.24" y1="1239.17" x2="331.44" y2="1194.33" stroke="#000" stroke-width="3.3" stroke-linecap="butt"/>
</g>
<rect x="289.24" y="1115.10" width="37.20" height="86.80" fill="none" stroke="#000" stroke-width="1.5"/>
<line x1="364.26" y1="1105.80" x2="364.26" y2="1061.70" stroke="#000" stroke-width="1.5" stroke-linecap="butt"/>
<line x1="354.31" y1="1061.70" x2="374.21" y2="1061.70" stroke="#000" stroke-width="1.5" stroke-linecap="butt"/>
<rect x="345.66" y="1105.80" width="37.20" height="96.10" fill="#005A00" stroke="#000" stroke-width="1.5"/>
<line x1="420.68" y1="1066.80" x2="420.68" y2="994.40" stroke="#000" stroke-width="1.5" stroke-linecap="butt"/>
<line x1="410.73" y1="994.40" x2="430.63" y2="994.40" stroke="#000" stroke-width="1.5" stroke-linecap="butt"/>
<rect x="402.08" y="1066.80" width="37.20" height="135.10" fill="#00C000" stroke="#000" stroke-width="1.5"/>
<line x1="477.10" y1="1127.60" x2="477.10" y2="1099.50" stroke="#000" stroke-width="1.5" stroke-linecap="butt"/>
<line x1="467.15" y1="1099.50" x2="487.05" y2="1099.50" stroke="#000" stroke-width="1.5" stroke-linecap="butt"/>
<rect x="458.50" y="1127.60" width="37.20" height="74.30" fill="#00C000" stroke="#000" stroke-width="1.5"/>
<line x1="533.52" y1="1011.40" x2="533.52" y2="907.10" stroke="#000" stroke-width="1.5" stroke-linecap="butt"/>
<line x1="523.57" y1="907.10" x2="543.47" y2="907.10" stroke="#000" stroke-width="1.5" stroke-linecap="butt"/>
<rect x="514.92" y="1011.40" width="37.20" height="190.50" fill="#00C000" stroke="#000" stroke-width="1.5"/>
<line x1="589.94" y1="1099.90" x2="589.94" y2="1063.10" stroke="#000" stroke-width="1.5" stroke-linecap="butt"/>
<line x1="579.99" y1="1063.10" x2="599.89" y2="1063.10" stroke="#000" stroke-width="1.5" stroke-linecap="butt"/>
<rect x="571.34" y="1099.90" width="37.20" height="102.00" fill="#00C000" stroke="#000" stroke-width="1.5"/>
<line x1="646.36" y1="1115.40" x2="646.36" y2="1076.70" stroke="#000" stroke-width="1.5" stroke-linecap="butt"/>
<line x1="636.41" y1="1076.70" x2="656.31" y2="1076.70" stroke="#000" stroke-width="1.5" stroke-linecap="butt"/>
<rect x="627.76" y="1115.40" width="37.20" height="86.50" fill="#00C000" stroke="#000" stroke-width="1.5"/>
<rect x="167.30" y="861.90" width="507.80" height="340.00" fill="none" stroke="#000" stroke-width="1.7"/>
<line x1="156.90" y1="1201.90" x2="167.30" y2="1201.90" stroke="#000" stroke-width="1.7" stroke-linecap="butt"/>
<line x1="675.10" y1="1201.90" x2="686.00" y2="1201.90" stroke="#000" stroke-width="1.7" stroke-linecap="butt"/>
<text transform="translate(153.10,1209.30) scale(1.0,1)" font-family="Liberation Sans, sans-serif" font-size="23.7" text-anchor="end" >0.0</text>
<line x1="161.30" y1="1184.90" x2="167.30" y2="1184.90" stroke="#000" stroke-width="1.7" stroke-linecap="butt"/>
<line x1="675.10" y1="1184.90" x2="681.00" y2="1184.90" stroke="#000" stroke-width="1.7" stroke-linecap="butt"/>
<line x1="161.30" y1="1167.90" x2="167.30" y2="1167.90" stroke="#000" stroke-width="1.7" stroke-linecap="butt"/>
<line x1="675.10" y1="1167.90" x2="681.00" y2="1167.90" stroke="#000" stroke-width="1.7" stroke-linecap="butt"/>
<line x1="161.30" y1="1150.90" x2="167.30" y2="1150.90" stroke="#000" stroke-width="1.7" stroke-linecap="butt"/>
<line x1="675.10" y1="1150.90" x2="681.00" y2="1150.90" stroke="#000" stroke-width="1.7" stroke-linecap="butt"/>
<line x1="156.90" y1="1133.90" x2="167.30" y2="1133.90" stroke="#000" stroke-width="1.7" stroke-linecap="butt"/>
<line x1="675.10" y1="1133.90" x2="686.00" y2="1133.90" stroke="#000" stroke-width="1.7" stroke-linecap="butt"/>
<text transform="translate(153.10,1141.30) scale(1.0,1)" font-family="Liberation Sans, sans-serif" font-size="23.7" text-anchor="end" >0.4</text>
<line x1="161.30" y1="1116.90" x2="167.30" y2="1116.90" stroke="#000" stroke-width="1.7" stroke-linecap="butt"/>
<line x1="675.10" y1="1116.90" x2="681.00" y2="1116.90" stroke="#000" stroke-width="1.7" stroke-linecap="butt"/>
<line x1="161.30" y1="1099.90" x2="167.30" y2="1099.90" stroke="#000" stroke-width="1.7" stroke-linecap="butt"/>
<line x1="675.10" y1="1099.90" x2="681.00" y2="1099.90" stroke="#000" stroke-width="1.7" stroke-linecap="butt"/>
<line x1="161.30" y1="1082.90" x2="167.30" y2="1082.90" stroke="#000" stroke-width="1.7" stroke-linecap="butt"/>
<line x1="675.10" y1="1082.90" x2="681.00" y2="1082.90" stroke="#000" stroke-width="1.7" stroke-linecap="butt"/>
<line x1="156.90" y1="1065.90" x2="167.30" y2="1065.90" stroke="#000" stroke-width="1.7" stroke-linecap="butt"/>
<line x1="675.10" y1="1065.90" x2="686.00" y2="1065.90" stroke="#000" stroke-width="1.7" stroke-linecap="butt"/>
<text transform="translate(153.10,1073.30) scale(1.0,1)" font-family="Liberation Sans, sans-serif" font-size="23.7" text-anchor="end" >0.8</text>
<line x1="161.30" y1="1048.90" x2="167.30" y2="1048.90" stroke="#000" stroke-width="1.7" stroke-linecap="butt"/>
<line x1="675.10" y1="1048.90" x2="681.00" y2="1048.90" stroke="#000" stroke-width="1.7" stroke-linecap="butt"/>
<line x1="161.30" y1="1031.90" x2="167.30" y2="1031.90" stroke="#000" stroke-width="1.7" stroke-linecap="butt"/>
<line x1="675.10" y1="1031.90" x2="681.00" y2="1031.90" stroke="#000" stroke-width="1.7" stroke-linecap="butt"/>
<line x1="161.30" y1="1014.90" x2="167.30" y2="1014.90" stroke="#000" stroke-width="1.7" stroke-linecap="butt"/>
<line x1="675.10" y1="1014.90" x2="681.00" y2="1014.90" stroke="#000" stroke-width="1.7" stroke-linecap="butt"/>
<line x1="156.90" y1="997.90" x2="167.30" y2="997.90" stroke="#000" stroke-width="1.7" stroke-linecap="butt"/>
<line x1="675.10" y1="997.90" x2="686.00" y2="997.90" stroke="#000" stroke-width="1.7" stroke-linecap="butt"/>
<text transform="translate(153.10,1005.30) scale(1.0,1)" font-family="Liberation Sans, sans-serif" font-size="23.7" text-anchor="end" >1.2</text>
<line x1="161.30" y1="980.90" x2="167.30" y2="980.90" stroke="#000" stroke-width="1.7" stroke-linecap="butt"/>
<line x1="675.10" y1="980.90" x2="681.00" y2="980.90" stroke="#000" stroke-width="1.7" stroke-linecap="butt"/>
<line x1="161.30" y1="963.90" x2="167.30" y2="963.90" stroke="#000" stroke-width="1.7" stroke-linecap="butt"/>
<line x1="675.10" y1="963.90" x2="681.00" y2="963.90" stroke="#000" stroke-width="1.7" stroke-linecap="butt"/>
<line x1="161.30" y1="946.90" x2="167.30" y2="946.90" stroke="#000" stroke-width="1.7" stroke-linecap="butt"/>
<line x1="675.10" y1="946.90" x2="681.00" y2="946.90" stroke="#000" stroke-width="1.7" stroke-linecap="butt"/>
<line x1="156.90" y1="929.90" x2="167.30" y2="929.90" stroke="#000" stroke-width="1.7" stroke-linecap="butt"/>
<line x1="675.10" y1="929.90" x2="686.00" y2="929.90" stroke="#000" stroke-width="1.7" stroke-linecap="butt"/>
<text transform="translate(153.10,937.30) scale(1.0,1)" font-family="Liberation Sans, sans-serif" font-size="23.7" text-anchor="end" >1.6</text>
<line x1="161.30" y1="912.90" x2="167.30" y2="912.90" stroke="#000" stroke-width="1.7" stroke-linecap="butt"/>
<line x1="675.10" y1="912.90" x2="681.00" y2="912.90" stroke="#000" stroke-width="1.7" stroke-linecap="butt"/>
<line x1="161.30" y1="895.90" x2="167.30" y2="895.90" stroke="#000" stroke-width="1.7" stroke-linecap="butt"/>
<line x1="675.10" y1="895.90" x2="681.00" y2="895.90" stroke="#000" stroke-width="1.7" stroke-linecap="butt"/>
<line x1="161.30" y1="878.90" x2="167.30" y2="878.90" stroke="#000" stroke-width="1.7" stroke-linecap="butt"/>
<line x1="675.10" y1="878.90" x2="681.00" y2="878.90" stroke="#000" stroke-width="1.7" stroke-linecap="butt"/>
<line x1="156.90" y1="861.90" x2="167.30" y2="861.90" stroke="#000" stroke-width="1.7" stroke-linecap="butt"/>
<line x1="675.10" y1="861.90" x2="686.00" y2="861.90" stroke="#000" stroke-width="1.7" stroke-linecap="butt"/>
<text transform="translate(153.10,869.30) scale(1.0,1)" font-family="Liberation Sans, sans-serif" font-size="23.7" text-anchor="end" >2.0</text>
<line x1="195.50" y1="1201.90" x2="195.50" y2="1212.00" stroke="#000" stroke-width="1.7" stroke-linecap="butt"/>
<line x1="195.50" y1="861.90" x2="195.50" y2="851.80" stroke="#000" stroke-width="1.7" stroke-linecap="butt"/>
<text transform="translate(195.50,1233.70) scale(1.0,1)" font-family="Liberation Sans, sans-serif" font-size="23.7" text-anchor="middle" >14</text>
<line x1="251.92" y1="1201.90" x2="251.92" y2="1212.00" stroke="#000" stroke-width="1.7" stroke-linecap="butt"/>
<line x1="251.92" y1="861.90" x2="251.92" y2="851.80" stroke="#000" stroke-width="1.7" stroke-linecap="butt"/>
<text transform="translate(251.92,1233.70) scale(1.0,1)" font-family="Liberation Sans, sans-serif" font-size="23.7" text-anchor="middle" >15</text>
<line x1="308.34" y1="1201.90" x2="308.34" y2="1212.00" stroke="#000" stroke-width="1.7" stroke-linecap="butt"/>
<line x1="308.34" y1="861.90" x2="308.34" y2="851.80" stroke="#000" stroke-width="1.7" stroke-linecap="butt"/>
<text transform="translate(308.34,1233.70) scale(1.0,1)" font-family="Liberation Sans, sans-serif" font-size="23.7" text-anchor="middle" >16</text>
<line x1="364.76" y1="1201.90" x2="364.76" y2="1212.00" stroke="#000" stroke-width="1.7" stroke-linecap="butt"/>
<line x1="364.76" y1="861.90" x2="364.76" y2="851.80" stroke="#000" stroke-width="1.7" stroke-linecap="butt"/>
<text transform="translate(364.76,1233.70) scale(1.0,1)" font-family="Liberation Sans, sans-serif" font-size="23.7" text-anchor="middle" >18</text>
<line x1="421.18" y1="1201.90" x2="421.18" y2="1212.00" stroke="#000" stroke-width="1.7" stroke-linecap="butt"/>
<line x1="421.18" y1="861.90" x2="421.18" y2="851.80" stroke="#000" stroke-width="1.7" stroke-linecap="butt"/>
<text transform="translate(421.18,1233.70) scale(1.0,1)" font-family="Liberation Sans, sans-serif" font-size="23.7" text-anchor="middle" >19</text>
<line x1="477.60" y1="1201.90" x2="477.60" y2="1212.00" stroke="#000" stroke-width="1.7" stroke-linecap="butt"/>
<line x1="477.60" y1="861.90" x2="477.60" y2="851.80" stroke="#000" stroke-width="1.7" stroke-linecap="butt"/>
<text transform="translate(477.60,1233.70) scale(1.0,1)" font-family="Liberation Sans, sans-serif" font-size="23.7" text-anchor="middle" >20</text>
<line x1="534.02" y1="1201.90" x2="534.02" y2="1212.00" stroke="#000" stroke-width="1.7" stroke-linecap="butt"/>
<line x1="534.02" y1="861.90" x2="534.02" y2="851.80" stroke="#000" stroke-width="1.7" stroke-linecap="butt"/>
<text transform="translate(534.02,1233.70) scale(1.0,1)" font-family="Liberation Sans, sans-serif" font-size="23.7" text-anchor="middle" >21</text>
<line x1="590.44" y1="1201.90" x2="590.44" y2="1212.00" stroke="#000" stroke-width="1.7" stroke-linecap="butt"/>
<line x1="590.44" y1="861.90" x2="590.44" y2="851.80" stroke="#000" stroke-width="1.7" stroke-linecap="butt"/>
<text transform="translate(590.44,1233.70) scale(1.0,1)" font-family="Liberation Sans, sans-serif" font-size="23.7" text-anchor="middle" >23</text>
<line x1="646.86" y1="1201.90" x2="646.86" y2="1212.00" stroke="#000" stroke-width="1.7" stroke-linecap="butt"/>
<line x1="646.86" y1="861.90" x2="646.86" y2="851.80" stroke="#000" stroke-width="1.7" stroke-linecap="butt"/>
<text transform="translate(646.86,1233.70) scale(1.0,1)" font-family="Liberation Sans, sans-serif" font-size="23.7" text-anchor="middle" >25</text>
<line x1="223.50" y1="870.50" x2="223.50" y2="958.00" stroke="#000" stroke-width="5" stroke-linecap="round"/>
<polygon points="213.80,954.20 233.20,954.20 223.50,979.10" fill="#000"/>
<circle cx="447.00" cy="870.40" r="2.5" fill="#000"/>
<line x1="447.00" y1="881.20" x2="447.00" y2="895.80" stroke="#000" stroke-width="5" stroke-linecap="round"/>
<line x1="447.00" y1="906.50" x2="447.00" y2="921.20" stroke="#000" stroke-width="5" stroke-linecap="round"/>
<line x1="447.00" y1="931.90" x2="447.00" y2="946.50" stroke="#000" stroke-width="5" stroke-linecap="round"/>
<line x1="447.00" y1="957.60" x2="447.00" y2="962.40" stroke="#000" stroke-width="5" stroke-linecap="round"/>
<polygon points="437.30,957.00 456.70,957.00 447.00,981.80" fill="#000"/>
<clipPath id="clipA"><rect x="0" y="0" width="31.0" height="60"/></clipPath>
<g clip-path="url(#clipA)"><text transform="translate(0.13,39.10) scale(0.9297,1)" font-family="Liberation Sans, sans-serif" font-size="63.8" font-weight="bold">a</text></g>
<text transform="translate(-0.70,480.90) scale(1.0003,1)" font-family="Liberation Sans, sans-serif" font-size="62" font-weight="bold">b</text>
<text transform="translate(0.30,887.20) scale(0.9516,1)" font-family="Liberation Sans, sans-serif" font-size="62" font-weight="bold">c</text>
<text transform="translate(286.22,1277.60) scale(1.0044,1)" font-family="Liberation Sans, sans-serif" font-size="24" font-weight="bold">site</text>
<text transform="translate(336.38,1277.60) scale(1.1273,1)" font-family="Liberation Sans, sans-serif" font-size="24" font-weight="bold">no.</text>
<text transform="translate(380.79,1277.60) scale(1.0386,1)" font-family="Liberation Sans, sans-serif" font-size="24" font-weight="bold">at</text>
<text transform="translate(407.33,1277.60) scale(1.1551,1)" font-family="Liberation Sans, sans-serif" font-size="24" font-weight="bold">river</text>
<text transform="translate(473.13,1277.60) scale(1.0351,1)" font-family="Liberation Sans, sans-serif" font-size="24" font-weight="bold">Horloff</text>
<text transform="translate(54.60,272.83) rotate(-90) scale(1.0110,1)" font-family="Liberation Sans, sans-serif" font-size="24" font-weight="bold">Mixture</text>
<text transform="translate(54.60,178.20) rotate(-90) scale(0.9845,1)" font-family="Liberation Sans, sans-serif" font-size="24" font-weight="bold">toxicity</text>
<text transform="translate(86.50,361.59) rotate(-90) scale(0.9930,1)" font-family="Liberation Sans, sans-serif" font-size="24" >(based</text>
<text transform="translate(86.50,281.94) rotate(-90) scale(1.0438,1)" font-family="Liberation Sans, sans-serif" font-size="24" >on</text>
<text transform="translate(86.50,246.70) rotate(-90) scale(0.8599,1)" font-family="Liberation Sans, sans-serif" font-size="24" >TU</text>
<text transform="translate(86.50,211.50) rotate(-90) scale(1.0357,1)" font-family="Liberation Sans, sans-serif" font-size="24" >for</text>
<text transform="translate(86.50,171.91) rotate(-90) scale(0.9732,1)" font-family="Liberation Sans, sans-serif" font-size="24" font-style="italic">Daphnia;</text>
<text transform="translate(86.50,71.07) rotate(-90) scale(0.9448,1)" font-family="Liberation Sans, sans-serif" font-size="24" >x</text>
<text transform="translate(86.50,53.53) rotate(-90) scale(1.0565,1)" font-family="Liberation Sans, sans-serif" font-size="24" >10<tspan font-size="17" dy="-9.2">-3</tspan><tspan dy="9.2">)</tspan></text>
<text transform="translate(68.20,753.63) rotate(-90) scale(0.9454,1)" font-family="Liberation Sans, sans-serif" font-size="24" font-weight="bold">EC</text>
<text transform="translate(73.80,721.37) rotate(-90) scale(0.9794,1)" font-family="Liberation Sans, sans-serif" font-size="16.4" font-weight="bold" letter-spacing="3">50</text>
<text transform="translate(68.20,694.91) rotate(-90) scale(1.0082,1)" font-family="Liberation Sans, sans-serif" font-size="24" font-weight="bold">(REF;</text>
<text transform="translate(68.20,623.23) rotate(-90) scale(1.0074,1)" font-family="Liberation Sans, sans-serif" font-size="24" font-weight="bold">mean</text>
<text transform="translate(67.20,553.63) rotate(-90) scale(0.9326,1)" font-family="Liberation Serif, serif" font-size="28" >±</text>
<text transform="translate(68.20,529.99) rotate(-90) scale(0.9930,1)" font-family="Liberation Sans, sans-serif" font-size="24" font-weight="bold">SEM)</text>
<text transform="translate(42.40,1142.71) rotate(-90) scale(0.9985,1)" font-family="Liberation Sans, sans-serif" font-size="24" font-weight="bold">Dioxin-like</text>
<text transform="translate(42.40,1014.52) rotate(-90) scale(1.0516,1)" font-family="Liberation Sans, sans-serif" font-size="24" font-weight="bold">activity</text>
<text transform="translate(74.80,1199.34) rotate(-90) scale(1.0353,1)" font-family="Liberation Sans, sans-serif" font-size="24" font-weight="bold">(µg</text>
<text transform="translate(73.60,1155.44) rotate(-90) scale(0.8282,1)" font-family="Liberation Serif, serif" font-size="25" >β</text>
<text transform="translate(74.80,1138.92) rotate(-90) scale(0.9756,1)" font-family="Liberation Sans, sans-serif" font-size="24" font-weight="bold">-NF-EQ/L;</text>
<text transform="translate(74.80,1021.51) rotate(-90) scale(0.9940,1)" font-family="Liberation Sans, sans-serif" font-size="24" font-weight="bold">mean</text>
<text transform="translate(73.80,951.93) rotate(-90) scale(0.9326,1)" font-family="Liberation Serif, serif" font-size="28" >±</text>
<text transform="translate(74.80,929.39) rotate(-90) scale(0.9947,1)" font-family="Liberation Sans, sans-serif" font-size="24" font-weight="bold">SEM)</text>
</svg>
</body></html>
